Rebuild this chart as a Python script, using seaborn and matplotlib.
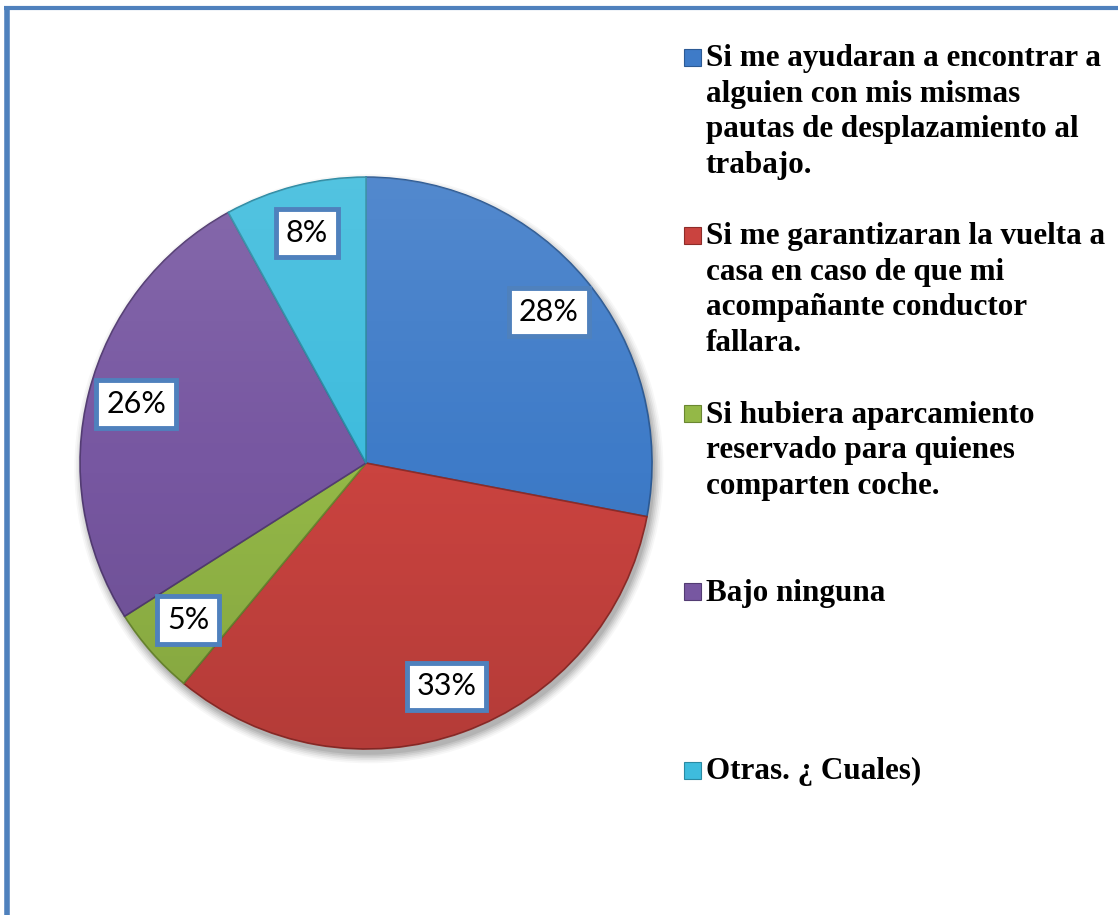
import numpy as np
import matplotlib
matplotlib.use("Agg")
import matplotlib.pyplot as plt
import seaborn as sns
from matplotlib.patches import Rectangle, Circle
from matplotlib.lines import Line2D

# --- data ---
categories = [
    "Si me ayudaran a encontrar a\nalguien con mis mismas\npautas de desplazamiento al\ntrabajo.",
    "Si me garantizaran la vuelta a\ncasa en caso de que mi\nacompañante conductor\nfallara.",
    "Si hubiera aparcamiento\nreservado para quienes\ncomparten coche.",
    "Bajo ninguna",
    "Otras. ¿ Cuales)",
]
shares = [28, 33, 5, 26, 8]
colors = ["#3E7BC8", "#CA433F", "#94B847", "#7757A1", "#3EBCDD"]
edge_colors = ["#2C5A94", "#8E2C29", "#6A8731", "#533C73", "#2A8AA3"]

sns.set_theme(style="white")
plt.rcParams["font.family"] = ["Lato", "DejaVu Sans"]

W, H = 1118, 915
fig = plt.figure(figsize=(W / 100, H / 100), dpi=100)
fig.patch.set_facecolor("white")

# pie axes: centre ~ (366, 463) px, radius ~ 286 px
ax = fig.add_axes([0.0716, 0.1814, 0.5116, 0.625])
ax.axis("off")

# soft drop shadow
for k, a in zip(np.linspace(1.03, 1.0, 6), np.linspace(0.03, 0.08, 6)):
    ax.add_patch(Circle((0.01, -0.02), k, color="black", alpha=a, lw=0,
                        zorder=0, clip_on=False))

wedges, _, autotexts = ax.pie(
    shares, colors=colors, startangle=90, counterclock=False,
    radius=1.0, autopct="%1.0f%%", pctdistance=0.83,
    wedgeprops=dict(linewidth=1.2), textprops=dict(fontsize=22, color="black"),
)
for w, ec in zip(wedges, edge_colors):
    w.set_edgecolor(ec)
    w.set_zorder(1)
ax.set_xlim(-1, 1)
ax.set_ylim(-1, 1)
ax.set_aspect("equal")

# light-to-dark vertical shading over the pie
grad = np.linspace(1, 0, 256)
shade = np.zeros((256, 1, 4))
shade[:, 0, :3] = np.where(grad > 0.5, 1.0, 0.0)[:, None]
shade[:, 0, 3] = np.abs(grad - 0.5) * 0.22
im = ax.imshow(shade, extent=[-1, 1, -1, 1], aspect="auto", zorder=2,
               interpolation="bilinear")
clip = Circle((0, 0), 1.0, transform=ax.transData)
im.set_clip_path(clip)

for t in autotexts:
    t.set_zorder(5)
    t.set_bbox(dict(boxstyle="square,pad=0.32", facecolor="white",
                    edgecolor="#4F81BD", linewidth=3.5))

# --- legend on the right, entries evenly distributed ---
cap_top = 45
leg_step = 178.25
sq = 17
for i, (lab, c) in enumerate(zip(categories, colors)):
    top = cap_top + i * leg_step
    sq_c = top + 12
    fig.patches.append(Rectangle((684 / W, 1 - (sq_c + sq / 2) / H), sq / W, sq / H,
                                 transform=fig.transFigure, facecolor=c,
                                 edgecolor=edge_colors[i], linewidth=0.8))
    fig.text(706 / W, 1 - (top - 1) / H, lab, ha="left", va="top",
             fontsize=22.4, fontweight="bold", family=["Liberation Serif"],
             linespacing=1.3, color="black")

# chart frame (left and top edges visible)
fig.add_artist(Line2D([6.5 / W, 6.5 / W], [0, 1 - 6 / H],
                      transform=fig.transFigure, color="#4F81BD", lw=4,
                      solid_capstyle="butt"))
fig.add_artist(Line2D([4 / W, 1], [1 - 7.5 / H, 1 - 7.5 / H],
                      transform=fig.transFigure, color="#4F81BD", lw=3,
                      solid_capstyle="butt"))

fig.savefig("out.png", dpi=100, facecolor="white")
